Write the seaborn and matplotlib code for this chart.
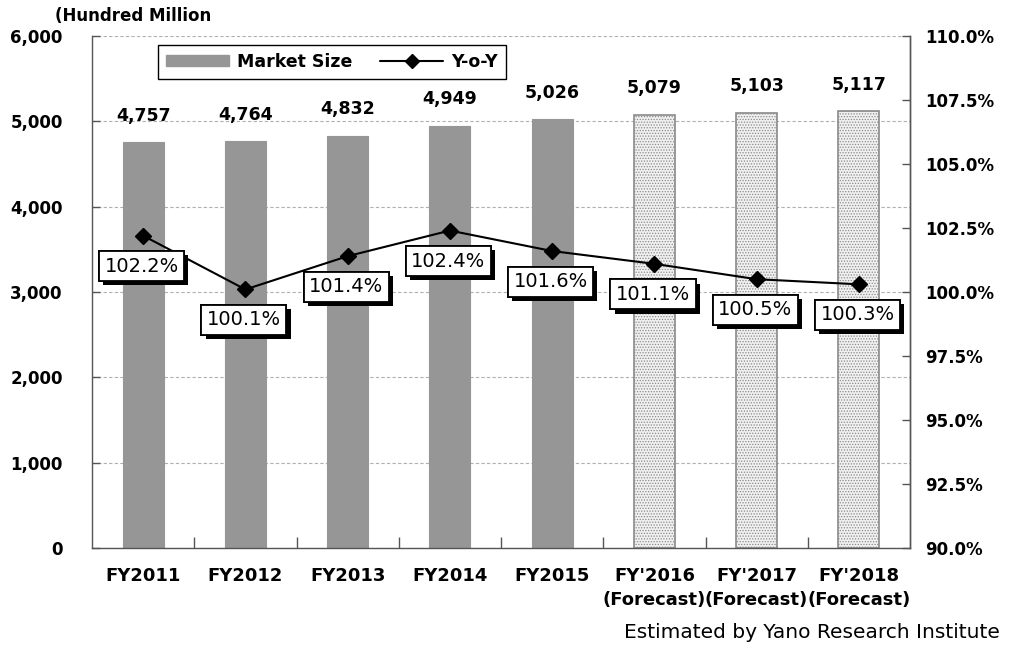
import numpy as np
import pandas as pd
import matplotlib
matplotlib.use("Agg")
import matplotlib.pyplot as plt
import matplotlib.patheffects as pe
from matplotlib.lines import Line2D
from matplotlib.patches import Patch
from matplotlib.ticker import FixedLocator, FuncFormatter
import seaborn as sns

categories = ["FY2011", "FY2012", "FY2013", "FY2014", "FY2015",
              "FY'2016\n(Forecast)", "FY'2017\n(Forecast)", "FY'2018\n(Forecast)"]
market_size = [4757, 4764, 4832, 4949, 5026, 5079, 5103, 5117]
yoy = [102.2, 100.1, 101.4, 102.4, 101.6, 101.1, 100.5, 100.3]
is_forecast = [False, False, False, False, False, True, True, True]
left_ticks = [0, 1000, 2000, 3000, 4000, 5000, 6000]
right_ticks = [90.0, 92.5, 95.0, 97.5, 100.0, 102.5, 105.0, 107.5, 110.0]

sns.set_theme(style="white")
plt.rcParams['font.family'] = ['DejaVu Sans']
plt.rcParams['hatch.linewidth'] = 0.6
plt.rcParams['text.color'] = 'black'
plt.rcParams['xtick.labelcolor'] = 'black'
plt.rcParams['ytick.labelcolor'] = 'black'

df = pd.DataFrame({"cat": categories, "size": market_size})

fig = plt.figure(figsize=(10.11, 6.49), dpi=100)
ax = fig.add_axes([92/1011, 1-548/649, 818/1011, 512/649])

sns.barplot(data=df, x="cat", y="size", ax=ax, color="#969696", width=0.4,
            saturation=1, edgecolor="#969696", linewidth=0.8, zorder=2)
for bar, fc in zip(ax.patches, is_forecast):
    if fc:
        bar.set_facecolor("#f0f0f0")
        bar.set_edgecolor("#8a8a8a")
        bar.set_hatch("......")
        bar.set_linewidth(1.2)

ax.set_ylim(0, 6000)
ax.set_xlim(-0.5, len(categories) - 0.5)
ax.set_yticks(left_ticks)
ax.yaxis.set_major_formatter(FuncFormatter(lambda v, p: f"{int(v):,}"))
ax.set_xlabel("")
ax.set_ylabel("")
ax.grid(axis="y", color="#b0b0b0", linestyle=(0, (3, 2)), linewidth=0.8, zorder=0)
ax.grid(axis="x", visible=False)
ax.set_axisbelow(True)
for s in ["left", "bottom", "right"]:
    ax.spines[s].set_visible(True)
    ax.spines[s].set_color("#555555")
    ax.spines[s].set_linewidth(1.0)
ax.spines["top"].set_visible(False)
ax.tick_params(axis="y", direction="in", length=6, width=1, color="#555555",
               pad=21, labelsize=12, left=True, labelcolor="black")
ax.tick_params(axis="x", which="major", length=0, pad=14, labelsize=13, labelcolor="black")
ax.xaxis.set_minor_locator(FixedLocator(np.arange(0.5, len(categories) - 1, 1.0)))
ax.tick_params(axis="x", which="minor", direction="in", length=8, width=1,
               color="#555555", bottom=True)
for lbl in ax.get_xticklabels():
    lbl.set_fontweight("bold")
    lbl.set_linespacing(1.4)
for lbl in ax.get_yticklabels():
    lbl.set_fontweight("bold")

for i, v in enumerate(market_size):
    ax.annotate(f"{v:,}", xy=(i, v), xytext=(0, 19), textcoords="offset points",
                ha="center", va="center", fontsize=12.5, fontweight="bold",
                color="black", zorder=5)

ax2 = ax.twinx()
ax2.set_ylim(90, 110)
xs = np.arange(len(categories))
ax2.plot(xs, yoy, color="black", linewidth=1.5, marker="D", markersize=8,
         markerfacecolor="black", zorder=4)
ax2.set_yticks(right_ticks)
ax2.yaxis.set_major_formatter(FuncFormatter(lambda v, p: f"{v:.1f}%"))
ax2.tick_params(axis="y", direction="in", length=6, width=1, color="#555555",
                pad=11, labelsize=12, right=True, labelcolor="black")
for lbl in ax2.get_yticklabels():
    lbl.set_fontweight("bold")
for s in ["top", "left", "bottom"]:
    ax2.spines[s].set_visible(False)
ax2.spines["right"].set_color("#555555")
ax2.spines["right"].set_linewidth(1.0)
ax2.grid(False)

for i, v in enumerate(yoy):
    t = ax2.annotate(f"{v:.1f}%", xy=(i, v), xytext=(-1, -22), textcoords="offset points",
                     ha="center", va="center", fontsize=14, zorder=6, color="black",
                     bbox=dict(boxstyle="square,pad=0.28", facecolor="white",
                               edgecolor="black", linewidth=1.3))
    t.get_bbox_patch().set_path_effects([
        pe.withSimplePatchShadow(offset=(3, -3), shadow_rgbFace="black", alpha=1.0),
        pe.Normal()])

handles = [Patch(facecolor="#969696", edgecolor="#969696"),
           Line2D([0], [0], color="black", linewidth=1.5, marker="D", markersize=7)]
leg = ax2.legend(handles, ["Market Size", "Y-o-Y"], ncol=2, loc="upper left",
                 bbox_to_anchor=(0.081, 0.982), frameon=True, fancybox=False,
                 edgecolor="black", framealpha=1, prop={"size": 12.5, "weight": "bold"},
                 handlelength=3.6, handleheight=0.6, columnspacing=1.6,
                 borderpad=0.45, handletextpad=0.5, borderaxespad=0)
leg.get_frame().set_linewidth(1.0)
leg.set_zorder(10)

fig.text(55/1011, 1-16/649, "(Hundred Million", ha="left", va="center",
         fontsize=12, fontweight="bold", color="black")
fig.text(1000/1011, 1-633/649, "Estimated by Yano Research Institute", ha="right",
         va="center", fontsize=14.5, color="black")

fig.savefig("out.png", dpi=100)
